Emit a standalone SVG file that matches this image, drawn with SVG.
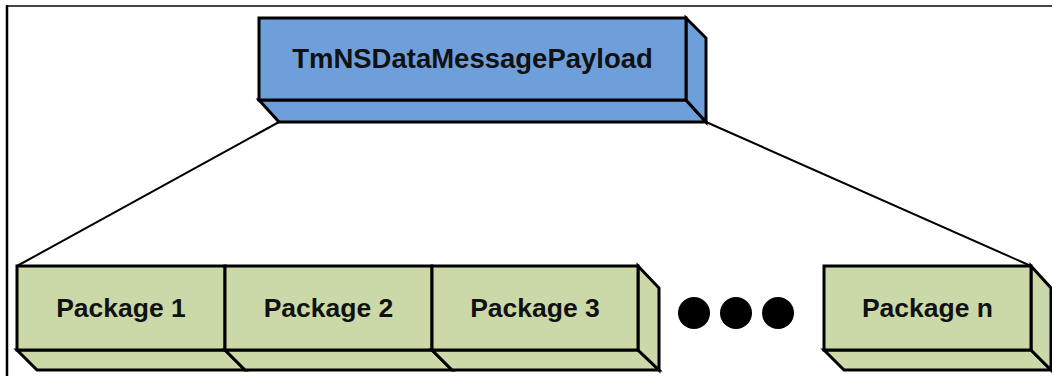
<svg xmlns="http://www.w3.org/2000/svg" width="1052" height="376" viewBox="0 0 1052 376">
<style>
.b{fill:#6f9fdb;stroke:#000;stroke-width:3;stroke-linejoin:miter}
.g{fill:#cbd9a8;stroke:#000;stroke-width:3;stroke-linejoin:miter}
.t{font-family:"Liberation Sans",Arial,sans-serif;font-weight:bold;fill:#111;text-anchor:middle}
.c{stroke:#000;stroke-width:2;fill:none}
</style>
<rect width="1052" height="376" fill="#fff"/>
<g id="frame">
<line x1="7" y1="6" x2="1052" y2="6" stroke="#444" stroke-width="2"/>
<line x1="7" y1="5" x2="7" y2="376" stroke="#000" stroke-width="2.5"/>
</g>
<g id="connectors">
<line class="c" x1="279" y1="122" x2="17" y2="266"/>
<line class="c" x1="706" y1="122" x2="1031" y2="266"/>
</g>
<g id="payload">
<polygon class="b" points="259,100 686,100 706,122 279,122"/>
<polygon class="b" points="686,18 706,38 706,122 686,100"/>
<rect class="b" x="259" y="18" width="427" height="82"/>
<text class="t" x="472.5" y="68" font-size="27.5">TmNSDataMessagePayload</text>
</g>
<g id="package1">
<polygon class="g" points="17,350 225,350 245,370 37,370"/>
<rect class="g" x="17" y="266" width="208" height="84"/>
<text class="t" x="121" y="317" font-size="26.5">Package 1</text>
</g>
<g id="package2">
<polygon class="g" points="225,350 432,350 452,370 245,370"/>
<rect class="g" x="225" y="266" width="207" height="84"/>
<text class="t" x="328.5" y="317" font-size="26.5">Package 2</text>
</g>
<g id="package3">
<polygon class="g" points="432,350 638,350 659,370 452,370"/>
<polygon class="g" points="638,266 659,288 659,370 638,350"/>
<rect class="g" x="432" y="266" width="206" height="84"/>
<text class="t" x="535" y="317" font-size="26.5">Package 3</text>
</g>
<g id="ellipsis">
<circle cx="694" cy="313" r="16" fill="#000"/>
<circle cx="736" cy="313" r="16" fill="#000"/>
<circle cx="778" cy="313" r="16" fill="#000"/>
</g>
<g id="packagen">
<polygon class="g" points="824,350 1031,350 1051,370 844,370"/>
<polygon class="g" points="1031,266 1051,288 1051,370 1031,350"/>
<rect class="g" x="824" y="266" width="207" height="84"/>
<text class="t" x="927.5" y="317" font-size="26.5">Package n</text>
</g>
</svg>
